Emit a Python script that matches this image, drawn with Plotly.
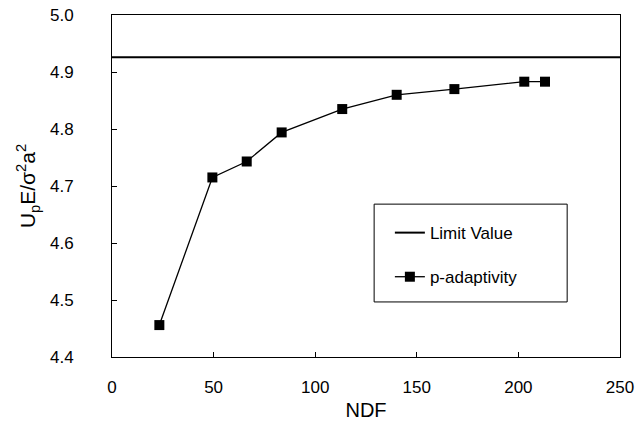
import plotly.graph_objects as go

ndf = [23.3, 49.4, 66.3, 83.5, 113.3, 140.1, 168.5, 202.9, 213.1]
energy = [4.456, 4.715, 4.743, 4.794, 4.835, 4.860, 4.870, 4.883, 4.883]
limit_x = [0, 250]
limit_value = 4.926
x_ticks = [0, 50, 100, 150, 200, 250]
y_ticks = [4.4, 4.5, 4.6, 4.7, 4.8, 4.9, 5.0]

FONT = "Liberation Sans, Arial, sans-serif"

fig = go.Figure()
fig.add_trace(go.Scatter(
    x=limit_x, y=[limit_value] * len(limit_x), mode="lines",
    line=dict(color="black", width=2), name="Limit Value", legendgroup="a",
))
fig.add_trace(go.Scatter(
    x=ndf, y=energy, mode="lines+markers",
    line=dict(color="black", width=1.3),
    marker=dict(symbol="square", size=10, color="black"),
    name="p-adaptivity", legendgroup="b",
))

# legend frame
fig.add_shape(type="rect", xref="paper", yref="paper",
              x0=0.516, x1=0.896, y0=0.161, y1=0.447,
              line=dict(color="black", width=1), fillcolor="white", layer="below")

fig.update_layout(
    width=644, height=437,
    margin=dict(l=112, r=24, t=15, b=80),
    paper_bgcolor="white", plot_bgcolor="white",
    font=dict(family=FONT, color="black", size=17),
    showlegend=True,
    legend=dict(
        x=0.547, y=0.415, xanchor="left", yanchor="top",
        borderwidth=0, bgcolor="rgba(0,0,0,0)",
        font=dict(size=17, family=FONT), tracegroupgap=19,
        traceorder="grouped",
    ),
    xaxis=dict(
        range=[0, 250], tickvals=x_ticks, ticks="inside", ticklen=5,
        tickcolor="black", showline=True, linecolor="black", linewidth=1,
        mirror=True, showgrid=False, zeroline=False, automargin=False,
        ticklabelstandoff=15, tickfont=dict(size=17),
        title=dict(text="NDF", font=dict(size=20), standoff=6),
    ),
    yaxis=dict(
        range=[4.4, 5.0], tickvals=y_ticks, tickformat=".1f", ticks="inside",
        ticklen=5, tickcolor="black", showline=True, linecolor="black",
        linewidth=1, mirror=True, showgrid=False, zeroline=False,
        automargin=False,
        ticklabelstandoff=34, tickfont=dict(size=17),
        title=dict(text="U<sub>p</sub>E/σ<sup>2</sup>a<sup>2</sup>",
                   font=dict(size=21), standoff=8),
    ),
)

fig.write_html("out.html", config={"displayModeBar": False},
               post_script="document.body.style.margin='0';")
